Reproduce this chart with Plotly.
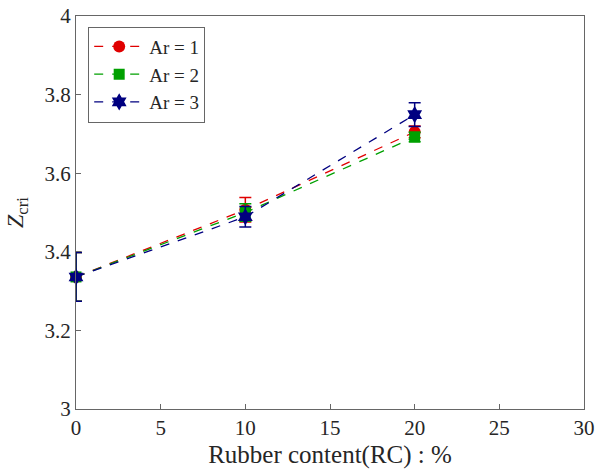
import plotly.graph_objects as go

rc = [0, 10, 20]
ar1 = [3.336, 3.507, 3.705]
ar1_err = [0.062, 0.031, 0.015]
ar2 = [3.336, 3.500, 3.692]
ar2_err = [0.062, 0.022, 0.012]
ar3 = [3.336, 3.489, 3.749]
ar3_err = [0.062, 0.026, 0.030]

names = ["Ar = 1", "Ar = 2", "Ar = 3"]
colors = ["#e00000", "#00a000", "#000080"]
symbols = ["circle", "square", "hexagram"]
sizes = [12, 11, 13]
series = [(ar1, ar1_err), (ar2, ar2_err), (ar3, ar3_err)]

font_family = "Liberation Serif"

fig = go.Figure()
for (y, e), n, c, s, sz in zip(series, names, colors, symbols, sizes):
    fig.add_trace(go.Scatter(
        x=rc, y=y, name=n, mode="lines+markers", cliponaxis=False,
        line=dict(color=c, width=1.3, dash="dash"),
        marker=dict(color=c, symbol=s, size=sz),
        error_y=dict(type="data", array=e, visible=True, color=c, thickness=1.5, width=6),
    ))

axis_common = dict(
    showline=True, linecolor="#666666", linewidth=1, mirror=True,
    ticks="inside", ticklen=5, tickcolor="#666666",
    showgrid=False, zeroline=False, automargin=False,
    tickfont=dict(family=font_family, size=21, color="#262626"),
)

fig.update_layout(
    width=597, height=470,
    margin=dict(l=76, r=13, t=16, b=61, autoexpand=False),
    paper_bgcolor="white", plot_bgcolor="white",
    font=dict(family=font_family, color="#262626"),
    xaxis=dict(range=[0, 30], tickvals=[0, 5, 10, 15, 20, 25, 30],
               title=dict(text="Rubber content(RC) : %", font=dict(size=25), standoff=6),
               **axis_common),
    yaxis=dict(range=[3, 4], tickvals=[3, 3.2, 3.4, 3.6, 3.8, 4],
               ticktext=["3", "3.2", "3.4", "3.6", "3.8", "4"],
               title=dict(text="<i>Z</i><sub>cri</sub>", font=dict(size=24), standoff=14),
               **axis_common),
    legend=dict(x=0.024, y=0.973, xanchor="left", yanchor="top",
                bordercolor="#666666", borderwidth=1, bgcolor="white",
                font=dict(family=font_family, size=19, color="#262626"),
                itemwidth=50, tracegroupgap=0),
    showlegend=True,
)

fig.write_html("out.html")
